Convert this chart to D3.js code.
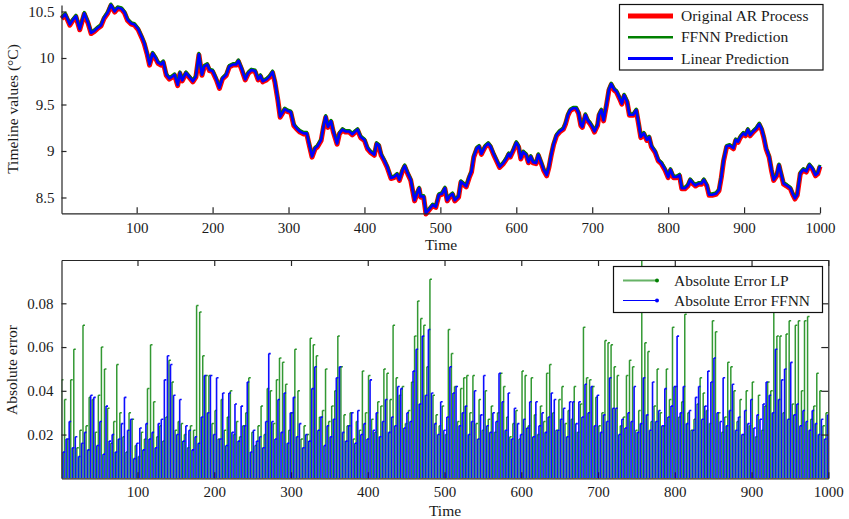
<!DOCTYPE html>
<html>
<head>
<meta charset="utf-8">
<script src="https://cdn.jsdelivr.net/npm/d3@7/dist/d3.min.js"></script>
<style>
  body { margin: 0; background: #fff; }
  svg text { font-family: "Liberation Serif", "Times New Roman", serif; fill: #1a1a1a; }
  .axis path, .axis line { stroke: #262626; stroke-width: 1.2; }
</style>
</head>
<body>
<svg id="chart" width="849" height="519"></svg>
<script>
// ---- Upper panel: AR process samples [time, value in °C] ----
const arSamples = [
  [1,10.43],[6,10.47],[12,10.36],[16,10.41],[20,10.45],[25,10.31],[31,10.48],[36,10.38],[40,10.27],[44,10.29],
  [48,10.32],[53,10.35],[57,10.43],[62,10.49],[66,10.57],[71,10.50],[75,10.54],[80,10.53],[84,10.49],[88,10.41],
  [93,10.37],[97,10.36],[102,10.31],[107,10.22],[110,10.16],[114,10.04],[117,9.93],[121,10.05],[125,10.00],[128,9.95],
  [132,9.93],[135,9.96],[139,9.82],[143,9.78],[147,9.80],[150,9.82],[154,9.71],[157,9.84],[160,9.76],[165,9.84],
  [169,9.80],[174,9.75],[178,9.80],[182,10.04],[186,9.82],[189,9.91],[193,9.93],[196,9.87],[200,9.86],[205,9.77],
  [209,9.68],[213,9.78],[218,9.82],[222,9.91],[227,9.93],[231,9.93],[234,9.97],[238,9.89],[243,9.77],[247,9.84],
  [251,9.87],[256,9.86],[260,9.77],[263,9.81],[266,9.75],[271,9.77],[275,9.80],[279,9.85],[282,9.75],[286,9.55],
  [289,9.37],[292,9.41],[295,9.45],[299,9.43],[303,9.42],[307,9.28],[311,9.24],[315,9.21],[320,9.19],[324,9.19],
  [327,9.08],[331,8.94],[335,9.03],[338,9.05],[343,9.12],[346,9.26],[349,9.37],[352,9.26],[356,9.32],[359,9.21],
  [364,9.08],[367,9.19],[371,9.23],[375,9.21],[380,9.21],[384,9.18],[388,9.21],[391,9.23],[395,9.15],[400,9.12],
  [404,9.03],[408,8.99],[413,8.96],[416,9.08],[419,9.06],[422,8.96],[426,8.90],[430,8.83],[435,8.71],[439,8.72],
  [443,8.75],[446,8.69],[450,8.79],[453,8.84],[457,8.76],[461,8.69],[466,8.47],[469,8.54],[472,8.60],[474,8.51],
  [478,8.51],[481,8.33],[485,8.37],[490,8.42],[494,8.40],[498,8.53],
  [502,8.54],[506,8.60],[509,8.47],[512,8.51],[516,8.54],[519,8.47],[524,8.51],[527,8.67],[530,8.65],[534,8.62],
  [538,8.72],[541,8.78],[544,8.94],[548,9.03],[551,9.05],[554,8.97],[559,9.05],[563,9.08],[566,9.05],[570,8.97],
  [574,8.90],[578,8.83],[583,8.87],[587,8.92],[590,8.97],[592,8.94],[596,9.01],[600,9.09],[603,9.05],[606,8.92],
  [609,8.99],[613,8.96],[616,8.88],[619,8.94],[622,8.88],[626,8.87],[629,8.96],[633,8.87],[636,8.80],[640,8.74],
  [643,8.83],[646,8.96],[649,9.07],[653,9.17],[657,9.21],[662,9.24],[665,9.30],[668,9.39],[671,9.44],[675,9.46],
  [679,9.46],[682,9.41],[685,9.28],[687,9.26],[691,9.39],[694,9.33],[697,9.30],[700,9.26],[703,9.21],[707,9.28],
  [709,9.39],[712,9.44],[715,9.33],[719,9.51],[722,9.66],[725,9.72],[729,9.66],[732,9.64],[736,9.57],[739,9.51],
  [742,9.60],[746,9.53],[749,9.39],[754,9.39],[758,9.44],[761,9.30],[764,9.15],[768,9.19],[772,9.12],[775,9.15],
  [778,9.05],[783,8.99],[787,8.90],[791,8.87],[796,8.80],[800,8.72],[803,8.80],[807,8.72],[811,8.72],[815,8.74],
  [818,8.60],[822,8.60],[826,8.63],[829,8.69],[833,8.65],[836,8.63],[840,8.65],[844,8.65],[847,8.69],[851,8.63],
  [854,8.53],[858,8.53],[863,8.54],[867,8.58],[870,8.72],[873,8.90],[877,9.05],[881,9.06],[886,9.03],[889,9.12],
  [892,9.10],[895,9.15],[899,9.19],[902,9.17],[905,9.23],[908,9.17],[912,9.21],[916,9.24],[920,9.29],[923,9.24],
  [926,9.15],[929,9.03],[933,8.94],[936,8.80],[939,8.69],[943,8.74],[946,8.85],[948,8.78],[952,8.65],[956,8.63],
  [961,8.60],[964,8.54],[967,8.49],[970,8.53],[974,8.76],[978,8.80],[982,8.78],[986,8.85],[990,8.81],[994,8.74],
  [997,8.76],[1000,8.84]
];
// Both one-step predictors track the process to within a pixel at this scale.
const ffnnPrediction = arSamples;
const linearPrediction = arSamples;

const timeTicks = [100, 200, 300, 400, 500, 600, 700, 800, 900, 1000];
const valueTicks = [8.5, 9, 9.5, 10, 10.5];
const errorTicks = [0.02, 0.04, 0.06, 0.08];

// ---- Lower panel: absolute errors ----
// Linear predictor, samples at t = 1, 5, 9, ... 997
const lpStart = 1, lpStep = 4;
const errorLP = [
  0.045,0.036,0.018,0.045,0.059,0.014,0.022,0.070,0.024,0.037,
  0.036,0.021,0.038,0.060,0.050,0.032,0.016,0.026,0.052,0.030,
  0.019,0.012,0.030,0.027,0.015,0.010,0.021,0.018,0.041,0.061,
  0.035,0.019,0.024,0.017,0.028,0.054,0.044,0.022,0.026,0.025,
  0.020,0.014,0.024,0.022,0.079,0.076,0.056,0.047,0.047,0.025,
  0.031,0.018,0.036,0.022,0.028,0.040,0.020,0.026,0.019,0.024,
  0.030,0.046,0.021,0.015,0.024,0.033,0.020,0.041,0.040,0.025,
  0.045,0.055,0.053,0.043,0.022,0.030,0.059,0.040,0.018,0.024,
  0.020,0.064,0.061,0.056,0.028,0.031,0.050,0.026,0.033,0.040,
  0.065,0.051,0.029,0.024,0.030,0.018,0.026,0.022,0.049,0.030,
  0.047,0.027,0.021,0.035,0.033,0.050,0.048,0.036,0.070,0.046,
  0.038,0.042,0.025,0.031,0.044,0.065,0.081,0.073,0.070,0.051,
  0.091,0.038,0.029,0.024,0.033,0.020,0.068,0.057,0.042,0.026,
  0.041,0.046,0.047,0.030,0.047,0.025,0.036,0.022,0.040,0.027,
  0.033,0.021,0.030,0.048,0.042,0.028,0.019,0.025,0.031,0.018,
  0.049,0.047,0.024,0.046,0.029,0.020,0.033,0.026,0.048,0.052,
  0.030,0.022,0.036,0.042,0.025,0.031,0.027,0.042,0.021,0.034,
  0.069,0.046,0.045,0.042,0.037,0.024,0.030,0.063,0.062,0.061,
  0.051,0.047,0.024,0.028,0.047,0.054,0.051,0.022,0.031,0.0998,
  0.062,0.058,0.026,0.033,0.050,0.030,0.024,0.050,0.036,0.069,
  0.042,0.028,0.035,0.075,0.030,0.022,0.027,0.034,0.046,0.039,
  0.031,0.025,0.072,0.067,0.030,0.021,0.028,0.053,0.051,0.040,
  0.026,0.036,0.020,0.040,0.024,0.044,0.019,0.038,0.022,0.033,
  0.044,0.040,0.085,0.065,0.065,0.030,0.066,0.072,0.034,0.070,
  0.072,0.040,0.072,0.074,0.027,0.033,0.048,0.040,0.024,0.030
];
// Neural-network predictor, samples at t = 3, 7, 11, ... 999
const ffnnStart = 3, ffnnStep = 4;
const errorFFNN = [
  0.012,0.018,0.026,0.014,0.019,0.010,0.016,0.021,0.013,0.038,
  0.037,0.015,0.026,0.011,0.033,0.017,0.020,0.012,0.018,0.025,
  0.037,0.022,0.027,0.009,0.016,0.023,0.013,0.025,0.018,0.021,
  0.014,0.025,0.027,0.045,0.056,0.052,0.038,0.020,0.036,0.017,
  0.024,0.022,0.013,0.019,0.016,0.028,0.047,0.030,0.047,0.020,
  0.046,0.018,0.039,0.015,0.039,0.021,0.034,0.017,0.033,0.024,
  0.044,0.012,0.022,0.017,0.019,0.014,0.026,0.057,0.026,0.018,
  0.036,0.021,0.039,0.016,0.030,0.037,0.019,0.025,0.014,0.020,
  0.017,0.041,0.051,0.022,0.028,0.015,0.024,0.019,0.027,0.046,
  0.051,0.021,0.017,0.024,0.030,0.016,0.031,0.020,0.025,0.018,
  0.045,0.022,0.030,0.019,0.026,0.036,0.021,0.028,0.024,0.042,
  0.041,0.023,0.030,0.026,0.049,0.059,0.034,0.065,0.038,0.068,
  0.039,0.025,0.020,0.035,0.022,0.028,0.051,0.039,0.042,0.024,
  0.030,0.033,0.020,0.026,0.040,0.018,0.029,0.047,0.024,0.021,
  0.030,0.026,0.048,0.035,0.022,0.039,0.018,0.032,0.025,0.020,
  0.027,0.023,0.035,0.019,0.035,0.024,0.030,0.021,0.028,0.039,
  0.036,0.022,0.027,0.032,0.019,0.035,0.035,0.025,0.035,0.028,
  0.043,0.030,0.042,0.024,0.038,0.021,0.029,0.026,0.046,0.032,
  0.032,0.020,0.027,0.023,0.030,0.026,0.042,0.021,0.025,0.046,
  0.029,0.022,0.044,0.026,0.031,0.024,0.041,0.028,0.033,0.042,
  0.065,0.030,0.042,0.025,0.031,0.022,0.037,0.042,0.027,0.033,
  0.049,0.044,0.055,0.030,0.026,0.046,0.024,0.031,0.043,0.022,
  0.028,0.020,0.031,0.025,0.036,0.023,0.029,0.027,0.034,0.044,
  0.038,0.030,0.059,0.036,0.045,0.050,0.027,0.053,0.029,0.034,
  0.024,0.031,0.026,0.022,0.031,0.025,0.020,0.027,0.018,0.029
];

const RED = "#ff0000", GREEN = "#008000", BLUE = "#0000ff";
const svg = d3.select("#chart");

// ================= Upper panel =================
const x1 = d3.scaleLinear().domain([1, 1000]).range([61.5, 820]);
const y1 = d3.scaleLinear().domain(d3.extent(arSamples, d => d[1])).range([213.3, 5]);

const line1 = d3.line().x(d => x1(d[0])).y(d => y1(d[1]));

const upper = svg.append("g");
upper.append("path").datum(arSamples).attr("d", line1).attr("transform", "translate(0,0.6)")
  .attr("fill", "none").attr("stroke", RED).attr("stroke-width", 5).attr("stroke-linejoin", "round");
upper.append("path").datum(ffnnPrediction).attr("d", line1).attr("transform", "translate(0,-1)")
  .attr("fill", "none").attr("stroke", GREEN).attr("stroke-width", 3).attr("stroke-linejoin", "round");
upper.append("path").datum(linearPrediction).attr("d", line1)
  .attr("fill", "none").attr("stroke", BLUE).attr("stroke-width", 2.6).attr("stroke-linejoin", "round");

upper.append("g").attr("class", "axis").attr("transform", "translate(0,213.3)")
  .call(d3.axisBottom(x1).tickValues(timeTicks).tickFormat(d3.format("d"))
    .tickSizeInner(-6).tickSizeOuter(0).tickPadding(9))
  .call(g => g.selectAll("text").attr("font-size", 15).attr("fill", "#1a1a1a"));
upper.append("g").attr("class", "axis").attr("transform", "translate(61.5,0)")
  .call(d3.axisLeft(y1).tickValues(valueTicks).tickFormat(d => d)
    .tickSizeInner(-5).tickSizeOuter(0).tickPadding(7))
  .call(g => g.selectAll("text").attr("font-size", 15).attr("fill", "#1a1a1a"));

svg.append("text").attr("x", 441).attr("y", 250).attr("text-anchor", "middle")
  .attr("font-size", 15.5).text("Time");
svg.append("text").attr("transform", "translate(18,109) rotate(-90)").attr("text-anchor", "middle")
  .attr("font-size", 15.5).text("Timeline values (°C)");

// legend
const leg1 = svg.append("g");
leg1.append("rect").attr("x", 619.5).attr("y", 4.5).attr("width", 203.5).attr("height", 65.5)
  .attr("fill", "#fff").attr("stroke", "#111").attr("stroke-width", 1.2);
const leg1Items = [
  { label: "Original AR Process", color: RED, width: 5 },
  { label: "FFNN Prediction", color: GREEN, width: 2.5 },
  { label: "Linear Prediction", color: BLUE, width: 3 }
];
leg1Items.forEach((d, i) => {
  const y = 16 + i * 21.3;
  leg1.append("line").attr("x1", 628).attr("x2", 673).attr("y1", y).attr("y2", y)
    .attr("stroke", d.color).attr("stroke-width", d.width);
  leg1.append("text").attr("x", 681).attr("y", y + 5).attr("font-size", 15.5).text(d.label);
});

// ================= Lower panel =================
const x2 = d3.scaleLinear().domain([1, 1000]).range([61.5, 828.3]);
const y2 = d3.scaleLinear().domain([0, d3.max(errorLP.concat(errorFFNN))]).range([478.3, 260]);

svg.append("defs").append("clipPath").attr("id", "errClip")
  .append("rect").attr("x", 61.5).attr("y", 260).attr("width", 828.3 - 61.5).attr("height", 478.3 - 260);

const stems = svg.append("g").attr("clip-path", "url(#errClip)");
function drawStems(values, start, step, color, width, opacity) {
  const g = stems.append("g").attr("stroke", color).attr("stroke-opacity", opacity).attr("stroke-width", width);
  values.forEach((v, i) => {
    const x = x2(start + i * step);
    g.append("line").attr("x1", x).attr("x2", x).attr("y1", y2(0)).attr("y2", y2(v));
    g.append("line").attr("x1", x).attr("x2", x + 2).attr("y1", y2(v)).attr("y2", y2(v));
  });
}
drawStems(errorLP, lpStart, lpStep, GREEN, 1.5, 0.8);
drawStems(errorFFNN, ffnnStart, ffnnStep, BLUE, 1.6, 0.95);

// box and axes
svg.append("g").attr("class", "axis").attr("transform", "translate(0,478.3)")
  .call(d3.axisBottom(x2).tickValues(timeTicks).tickFormat(d3.format("d"))
    .tickSizeInner(-6).tickSizeOuter(0).tickPadding(8.5))
  .call(g => g.selectAll("text").attr("font-size", 15).attr("fill", "#1a1a1a"));
svg.append("g").attr("class", "axis").attr("transform", "translate(0,260)")
  .call(d3.axisTop(x2).tickValues(timeTicks).tickFormat("").tickSizeInner(-6).tickSizeOuter(0));
svg.append("g").attr("class", "axis").attr("transform", "translate(61.5,0)")
  .call(d3.axisLeft(y2).tickValues(errorTicks).tickFormat(d3.format(".2f"))
    .tickSizeInner(-5).tickSizeOuter(0).tickPadding(8))
  .call(g => g.selectAll("text").attr("font-size", 15).attr("fill", "#1a1a1a"));
svg.append("g").attr("class", "axis").attr("transform", "translate(828.3,0)")
  .call(d3.axisRight(y2).tickValues(errorTicks).tickFormat("").tickSizeInner(-7).tickSizeOuter(0));

svg.append("text").attr("x", 445).attr("y", 516).attr("text-anchor", "middle")
  .attr("font-size", 15.5).text("Time");
svg.append("text").attr("transform", "translate(17,370) rotate(-90)").attr("text-anchor", "middle")
  .attr("font-size", 15.5).text("Absolute error");

// legend
const leg2 = svg.append("g");
leg2.append("rect").attr("x", 613.5).attr("y", 266.5).attr("width", 209).attr("height", 46)
  .attr("fill", "#fff").attr("stroke", "#111").attr("stroke-width", 1.2);
const leg2Items = [
  { label: "Absolute Error LP", color: GREEN, width: 2, opacity: 0.6 },
  { label: "Absolute Error FFNN", color: BLUE, width: 1, opacity: 1 }
];
leg2Items.forEach((d, i) => {
  const y = 280.5 + i * 20;
  leg2.append("line").attr("x1", 623).attr("x2", 657).attr("y1", y).attr("y2", y)
    .attr("stroke", d.color).attr("stroke-opacity", d.opacity).attr("stroke-width", d.width);
  leg2.append("circle").attr("cx", 657).attr("cy", y).attr("r", 2).attr("fill", d.color);
  leg2.append("text").attr("x", 674).attr("y", y + 5).attr("font-size", 15.5).text(d.label);
});
</script>
</body>
</html>
